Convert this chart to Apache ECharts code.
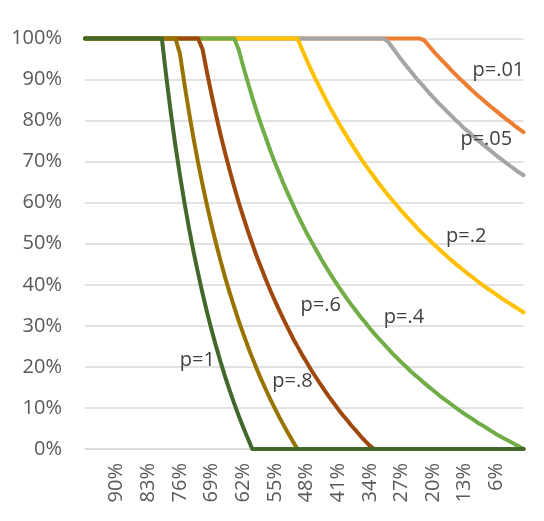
<!DOCTYPE html>
<html>
<head>
<meta charset="utf-8">
<script src="https://cdn.jsdelivr.net/npm/echarts@6/dist/echarts.min.js"></script>
<style>
  html, body { margin: 0; padding: 0; background: #ffffff; }
  #chart { width: 544px; height: 521px; }
</style>
</head>
<body>
<div id="chart"></div>
<script>
// Horizontal axis: share in percent, running from 97% down to 0%
const xPercent = [97, 96, 95, 94, 93, 92, 91, 90, 89, 88, 87, 86, 85, 84, 83, 82, 81, 80,
  79, 78, 77, 76, 75, 74, 73, 72, 71, 70, 69, 68, 67, 66, 65, 64, 63, 62, 61, 60,
  59, 58, 57, 56, 55, 54, 53, 52, 51, 50, 49, 48, 47, 46, 45, 44, 43, 42, 41, 40,
  39, 38, 37, 36, 35, 34, 33, 32, 31, 30, 29, 28, 27, 26, 25, 24, 23, 22, 21, 20,
  19, 18, 17, 16, 15, 14, 13, 12, 11, 10, 9, 8, 7, 6, 5, 4, 3, 2, 1, 0];

// Category labels that are printed under the axis
const xTickLabels = ['90%', '83%', '76%', '69%', '62%', '55%', '48%', '41%', '34%', '27%', '20%', '13%', '6%'];

// Vertical axis ticks (percent)
const yTicks = [0, 10, 20, 30, 40, 50, 60, 70, 80, 90, 100];

// Curves: [x percent, y percent]
const curveP001 = [[97,100],[23,100],[22,99.6],[21,98.3],[20,97.0],[19,95.8],[18,94.6],[17,93.5],[16,92.3],[15,91.2],[14,90.1],[13,89.1],[12,88.0],[11,87.0],[10,86.0],[9,85.1],[8,84.1],[7,83.2],[6,82.3],[5,81.4],[4,80.5],[3,79.7],[2,78.8],[1,78.0],[0,77.2]];

const curveP005 = [[97,100],[31,100],[30,99.3],[29,97.8],[28,96.3],[27,94.8],[26,93.4],[25,92.1],[24,90.7],[23,89.4],[22,88.2],[21,86.9],[20,85.7],[19,84.5],[18,83.4],[17,82.3],[16,81.2],[15,80.1],[14,79.1],[13,78.0],[12,77.1],[11,76.1],[10,75.1],[9,74.2],[8,73.3],[7,72.4],[6,71.5],[5,70.7],[4,69.8],[3,69.0],[2,68.2],[1,67.4],[0,66.7]];

const curveP02 = [[97,100],[50,100],[49,97.4],[48,94.9],[47,92.4],[46,90.1],[45,87.9],[44,85.7],[43,83.6],[42,81.6],[41,79.7],[40,77.8],[39,76.0],[38,74.2],[37,72.5],[36,70.8],[35,69.2],[34,67.7],[33,66.2],[32,64.7],[31,63.3],[30,61.9],[29,60.6],[28,59.3],[27,58.0],[26,56.8],[25,55.6],[24,54.4],[23,53.2],[22,52.1],[21,51.1],[20,50.0],[19,49.0],[18,48.0],[17,47.0],[16,46.0],[15,45.1],[14,44.2],[13,43.3],[12,42.4],[11,41.6],[10,40.7],[9,39.9],[8,39.1],[7,38.4],[6,37.6],[5,36.8],[4,36.1],[3,35.4],[2,34.7],[1,34.0],[0,33.3]];

const curveP04 = [[97,100],[64,100],[63,97.3],[62,93.2],[61,89.4],[60,85.7],[59,82.2],[58,78.9],[57,75.8],[56,72.7],[55,69.8],[54,67.1],[53,64.4],[52,61.9],[51,59.5],[50,57.1],[49,54.9],[48,52.7],[47,50.7],[46,48.7],[45,46.8],[44,44.9],[43,43.1],[42,41.4],[41,39.7],[40,38.1],[39,36.5],[38,35.0],[37,33.6],[36,32.1],[35,30.8],[34,29.4],[33,28.1],[32,26.9],[31,25.7],[30,24.5],[29,23.3],[28,22.2],[27,21.1],[26,20.1],[25,19.0],[24,18.0],[23,17.1],[22,16.1],[21,15.2],[20,14.3],[19,13.4],[18,12.5],[17,11.7],[16,10.9],[15,10.1],[14,9.3],[13,8.5],[12,7.8],[11,7.1],[10,6.3],[9,5.7],[8,5.0],[7,4.3],[6,3.6],[5,3.0],[4,2.4],[3,1.8],[2,1.2],[1,0.6],[0,0]];

const curveP06 = [[97,100],[72,100],[71,97.4],[70,91.7],[69,86.3],[68,81.3],[67,76.5],[66,72.1],[65,67.9],[64,63.9],[63,60.1],[62,56.6],[61,53.2],[60,50.0],[59,46.9],[58,44.1],[57,41.3],[56,38.6],[55,36.1],[54,33.7],[53,31.4],[52,29.2],[51,27.0],[50,25.0],[49,23.0],[48,21.2],[47,19.3],[46,17.6],[45,15.9],[44,14.3],[43,12.7],[42,11.2],[41,9.7],[40,8.3],[39,7.0],[38,5.6],[37,4.4],[36,3.1],[35,1.9],[34,0.8],[33,0],[0,0]];

const curveP08 = [[97,100],[77,100],[76,96.3],[75,88.9],[74,82.1],[73,75.7],[72,69.8],[71,64.4],[70,59.3],[69,54.5],[68,50.0],[67,45.8],[66,41.8],[65,38.1],[64,34.6],[63,31.2],[62,28.1],[61,25.1],[60,22.2],[59,19.5],[58,16.9],[57,14.5],[56,12.1],[55,9.9],[54,7.7],[53,5.7],[52,3.7],[51,1.8],[50,0],[0,0]];

const curveP1 = [[97,100],[80,100],[79,90.5],[78,81.8],[77,73.9],[76,66.7],[75,60.0],[74,53.8],[73,48.1],[72,42.9],[71,37.9],[70,33.3],[69,29.0],[68,25.0],[67,21.2],[66,17.6],[65,14.3],[64,11.1],[63,8.1],[62,5.3],[61,2.6],[60,0],[0,0]];

const seriesNames = ['p=.01', 'p=.05', 'p=.2', 'p=.4', 'p=.6', 'p=.8', 'p=1'];

const FONT = '"Open Sans", "Segoe UI", sans-serif';
const pct = v => v + '%';

// Drawing order: the last series sits on top
const lineDefs = [
  { name: 'p=.01', data: curveP001, color: '#ED7D31', tag: ['6%', 92.2],  shift: [2, 0] },
  { name: 'p=.05', data: curveP005, color: '#A5A5A5', tag: ['8%', 75.4],  shift: [-1, 0] },
  { name: 'p=.2',  data: curveP02,  color: '#FFC000', tag: ['13%', 51.9], shift: [1.5, 0] },
  { name: 'p=.4',  data: curveP04,  color: '#70AD47', tag: ['26%', 32.0], shift: [-2, 0] },
  { name: 'p=.6',  data: curveP06,  color: '#9E480E', tag: ['45%', 35.1], shift: [0.7, 0] },
  { name: 'p=.8',  data: curveP08,  color: '#997300', tag: ['51%', 16.6], shift: [-0.5, 0] },
  { name: 'p=1',   data: curveP1,   color: '#43682B', tag: ['72%', 21.7], shift: [-0.6, 0] }
];

const chart = echarts.init(document.getElementById('chart'), null, { renderer: 'canvas' });

chart.setOption({
  animation: false,
  backgroundColor: '#ffffff',
  grid: { left: 85, right: 20.5, top: 38.5, bottom: 72, containLabel: false },
  xAxis: {
    type: 'category',
    data: xPercent.map(pct),
    boundaryGap: false,
    axisLine: { show: true, lineStyle: { color: '#D9D9D9', width: 1.5 } },
    axisTick: { show: false },
    splitLine: { show: false },
    axisLabel: {
      rotate: 90,
      margin: 14,
      fontFamily: FONT,
      fontSize: 20,
      color: '#595959',
      interval: (idx, val) => xTickLabels.indexOf(val) >= 0
    }
  },
  yAxis: {
    type: 'value',
    min: yTicks[0],
    max: yTicks[yTicks.length - 1],
    interval: yTicks[1] - yTicks[0],
    axisLine: { show: false },
    axisTick: { show: false },
    splitLine: { show: true, lineStyle: { color: '#D9D9D9', width: 1.5 } },
    axisLabel: {
      margin: 23,
      fontFamily: FONT,
      fontSize: 20,
      color: '#595959',
      formatter: v => v + '%'
    }
  },
  series: lineDefs.map(d => ({
    name: d.name,
    type: 'line',
    data: d.data.map(([x, y]) => [pct(x), y]),
    showSymbol: false,
    symbol: 'none',
    clip: false,
    lineStyle: { color: d.color, width: 4, cap: 'round', join: 'round' },
    itemStyle: { color: d.color },
    markPoint: {
      symbol: 'circle',
      symbolSize: 0,
      silent: true,
      data: [{ name: d.name, coord: d.tag }],
      label: {
        show: true,
        position: 'inside',
        offset: d.shift,
        formatter: '{b}',
        fontFamily: FONT,
        fontSize: 20,
        color: '#404040'
      }
    }
  }))
});
</script>
</body>
</html>
